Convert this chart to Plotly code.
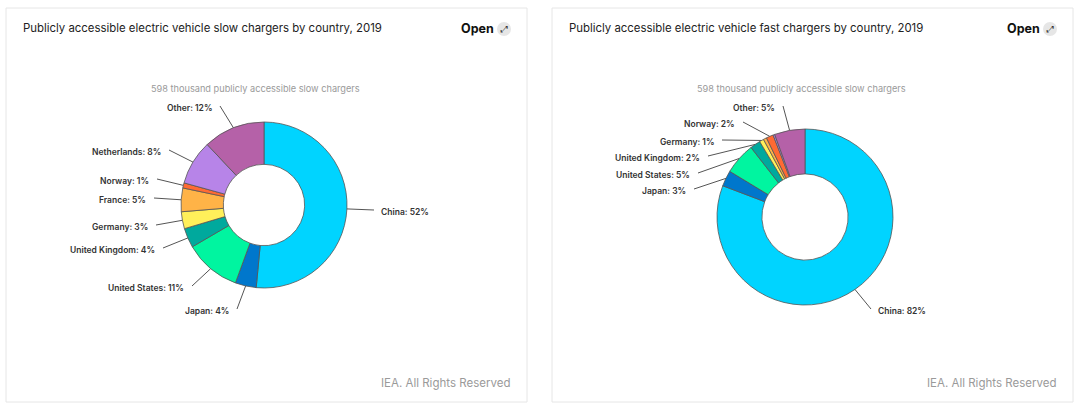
import math
import plotly.graph_objects as go

W, H = 1080, 408

# slice values, labels carry the published rounded shares
countries = ['China', 'Japan', 'United States', 'United Kingdom', 'Germany',
             'France', 'Norway', 'Netherlands', 'Other']
slow_values = [51.5, 4.1, 11.0, 3.8, 3.3, 4.6, 1.0, 8.7, 12.0]
fast_values = [80.7, 2.9, 5.8, 1.9, 0.8, 0.6, 1.3, 0.3, 5.6]
slow_labels = ['China: 52%', 'Japan: 4%', 'United States: 11%', 'United Kingdom: 4%',
               'Germany: 3%', 'France: 5%', 'Norway: 1%', 'Netherlands: 8%', 'Other: 12%']
fast_labels = ['China: 82%', 'Japan: 3%', 'United States: 5%', 'United Kingdom: 2%',
               'Germany: 1%', '', 'Norway: 2%', '', 'Other: 5%']
colors = ['#00d4ff', '#0077cc', '#00f5a0', '#00a99d', '#fff05a',
          '#ffb347', '#ff6a33', '#b784e8', '#b561a8']

slow_title = 'Publicly accessible electric vehicle slow chargers by country, 2019'
fast_title = 'Publicly accessible electric vehicle fast chargers by country, 2019'
subtitle = '598 thousand publicly accessible slow chargers'
credit = 'IEA. All Rights Reserved'

# where the label leaders end (pixels), the labels sit just past these
slow_ends = [(374, 210), (237, 309), (192, 286), (163, 248), (156, 225),
             (154, 198), (157, 179), (169, 150), (220, 106)]
fast_ends = [(871, 309), (694, 189), (698, 173), (708, 156), (722, 140),
             None, (743, 122), None, (783, 106)]

FONT = 'Inter'
LINE = '#555555'


def px(x):
    return x / W


def py(y):
    return 1 - y / H


fig = go.Figure()


def add_text(x, y, text, anchor, family, size, color, weight=400):
    fig.add_annotation(x=px(x), y=py(y), text=text, showarrow=False, xanchor=anchor, yanchor='middle',
                       font=dict(family=family, size=size, color=color, weight=weight))


def add_panel(left, title, values, labels, ends, cx, cy, r, sub_x):
    # card outline
    fig.add_shape(type='rect', xref='paper', yref='paper',
                  x0=px(left), x1=px(left + 521), y0=py(8), y1=py(402),
                  line=dict(color='#e6e6e6', width=1), fillcolor='white', layer='below')
    fig.add_trace(go.Pie(values=values, labels=countries, sort=False, direction='clockwise',
                         rotation=0, hole=0.49, textinfo='none', hoverinfo='label+percent',
                         marker=dict(colors=colors, line=dict(color='#555555', width=0.8)),
                         domain=dict(x=[px(cx - r), px(cx + r)], y=[py(cy + r), py(cy - r)])))
    add_text(left + 15, 28, title, 'left', FONT, 11.4, '#222222')
    add_text(left + 453, 29, '<b>Open</b>', 'left', FONT, 12.5, '#111111')
    fig.add_shape(type='circle', xref='paper', yref='paper',
                  x0=px(left + 491), x1=px(left + 505), y0=py(36), y1=py(22),
                  line=dict(width=0), fillcolor='#e6e6e6')
    add_text(left + 498, 29, '⤢', 'center', 'DejaVu Sans', 9, '#333333')
    add_text(sub_x, 88, subtitle, 'center', FONT, 9.2, '#9a9a9a')
    add_text(left + 506, 383, credit, 'right', FONT, 11.5, '#9a9a9a')

    # leader lines start on the rim at each slice's mid angle
    total = sum(values)
    start = 0
    for val, label, end in zip(values, labels, ends):
        mid = math.radians((start + val / 2) / total * 360)
        start += val
        if not label:
            continue
        x0 = cx + r * math.sin(mid)
        y0 = cy - r * math.cos(mid)
        x1, y1 = end
        fig.add_shape(type='line', xref='paper', yref='paper',
                      x0=px(x0), y0=py(y0), x1=px(x1), y1=py(y1),
                      line=dict(color=LINE, width=1))
        right_side = x1 > cx
        add_text(x1 + (5 if right_side else -6), y1 + 2, label, 'left' if right_side else 'right',
                 FONT, 8.5, '#333333', 600)


add_panel(6, slow_title, slow_values, slow_labels, slow_ends, 264, 205, 83, 255)
add_panel(552, fast_title, fast_values, fast_labels, fast_ends, 805, 217, 88, 801)

fig.update_layout(width=W, height=H, margin=dict(l=0, r=0, t=0, b=0),
                  paper_bgcolor='white', showlegend=False)

fig.write_html('out.html', config=dict(displayModeBar=False),
               post_script="document.body.style.margin='0';")
